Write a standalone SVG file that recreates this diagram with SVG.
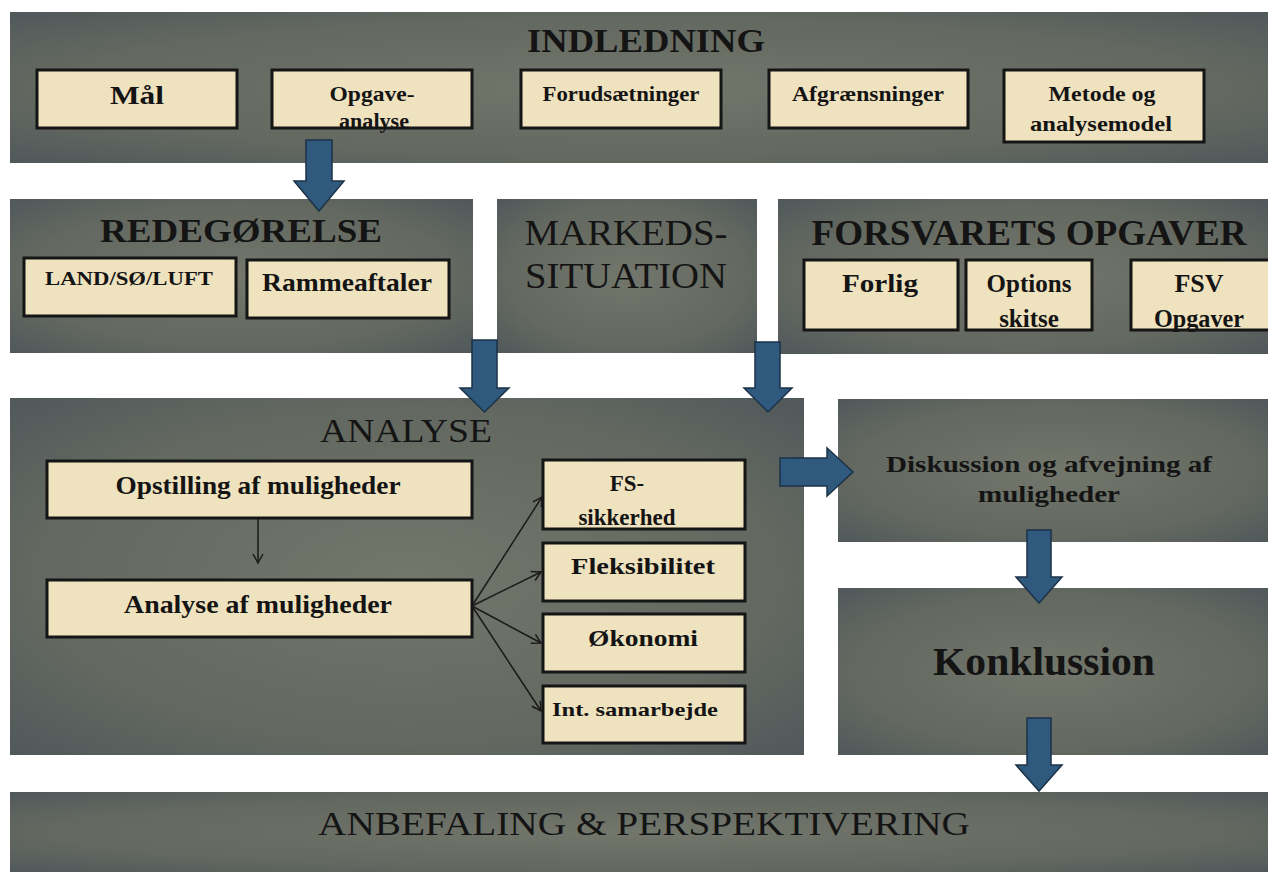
<svg xmlns="http://www.w3.org/2000/svg" width="1268" height="872" viewBox="0 0 1268 872">
<defs>
<radialGradient id="pg" cx="50%" cy="50%" r="72%">
<stop offset="0%" stop-color="#72766b"/>
<stop offset="65%" stop-color="#636860"/>
<stop offset="100%" stop-color="#4f575a"/>
</radialGradient>
<marker id="ah" markerWidth="12" markerHeight="12" refX="10" refY="6" orient="auto" markerUnits="userSpaceOnUse">
<path d="M1,1 L10,6 L1,11" fill="none" stroke="#1a1a1a" stroke-width="1.5"/>
</marker>
</defs>
<style>
.panel{fill:url(#pg)}
.box{fill:#efe2bf;stroke:#151515;stroke-width:3}
.arrow{fill:#2f5a7e;stroke:#1b3248;stroke-width:1.5}
.t{font-family:"Liberation Serif","Times New Roman",serif;fill:#141414;text-anchor:middle}
.b{font-weight:bold}
.thin{stroke:#1a1a1a;stroke-width:1.5;fill:none}
</style>
<rect width="1268" height="872" fill="#ffffff"/>

<g id="indledning">
<rect class="panel" x="10" y="12" width="1258" height="151"/>
<text class="t b" x="646" y="52" font-size="33" textLength="238" lengthAdjust="spacingAndGlyphs">INDLEDNING</text>
</g>
<g id="maal"><rect class="box" x="37" y="70" width="200" height="58"/><text class="t b" x="137" y="104" font-size="25" textLength="54" lengthAdjust="spacingAndGlyphs">Mål</text></g>
<g id="opgaveanalyse"><rect class="box" x="272" y="70" width="200" height="58"/><text class="t b" x="372" y="101" font-size="21" textLength="85" lengthAdjust="spacingAndGlyphs">Opgave-</text><text class="t b" x="374" y="128" font-size="21" textLength="70" lengthAdjust="spacingAndGlyphs">analyse</text></g>
<g id="forudsaetninger"><rect class="box" x="521" y="70" width="200" height="58"/><text class="t b" x="621" y="101" font-size="21" textLength="157" lengthAdjust="spacingAndGlyphs">Forudsætninger</text></g>
<g id="afgraensninger"><rect class="box" x="769" y="70" width="199" height="58"/><text class="t b" x="868" y="101" font-size="21" textLength="152" lengthAdjust="spacingAndGlyphs">Afgrænsninger</text></g>
<g id="metode"><rect class="box" x="1004" y="70" width="200" height="72"/><text class="t b" x="1102" y="101" font-size="21" textLength="107" lengthAdjust="spacingAndGlyphs">Metode og</text><text class="t b" x="1101" y="131" font-size="21" textLength="142" lengthAdjust="spacingAndGlyphs">analysemodel</text></g>

<g id="redegoerelse">
<rect class="panel" x="10" y="199" width="463" height="154"/>
<text class="t b" x="241" y="242" font-size="34" textLength="282" lengthAdjust="spacingAndGlyphs">REDEGØRELSE</text>
</g>
<g id="landsoeluft"><rect class="box" x="24" y="258" width="212" height="58"/><text class="t b" x="129" y="285" font-size="18" textLength="168" lengthAdjust="spacingAndGlyphs">LAND/SØ/LUFT</text></g>
<g id="rammeaftaler"><rect class="box" x="247" y="260" width="202" height="58"/><text class="t b" x="347" y="291" font-size="25" textLength="170" lengthAdjust="spacingAndGlyphs">Rammeaftaler</text></g>

<g id="markedssituation">
<rect class="panel" x="497" y="199" width="260" height="154"/>
<text class="t" x="626" y="245" font-size="35" textLength="203" lengthAdjust="spacingAndGlyphs">MARKEDS-</text>
<text class="t" x="626" y="288" font-size="35" textLength="202" lengthAdjust="spacingAndGlyphs">SITUATION</text>
</g>

<g id="forsvaretsopgaver">
<rect class="panel" x="778" y="199" width="490" height="155"/>
<text class="t b" x="1029" y="245" font-size="35" textLength="435" lengthAdjust="spacingAndGlyphs">FORSVARETS OPGAVER</text>
</g>
<g id="forlig"><rect class="box" x="804" y="260" width="154" height="70"/><text class="t b" x="880" y="292" font-size="26" textLength="76" lengthAdjust="spacingAndGlyphs">Forlig</text></g>
<g id="options"><rect class="box" x="966" y="260" width="126" height="70"/><text class="t b" x="1029" y="292" font-size="25">Options</text><text class="t b" x="1029" y="327" font-size="25">skitse</text></g>
<g id="fsv"><rect class="box" x="1131" y="260" width="140" height="70"/><text class="t b" x="1199" y="292" font-size="26">FSV</text><text class="t b" x="1199" y="327" font-size="26" textLength="90" lengthAdjust="spacingAndGlyphs">Opgaver</text></g>

<g id="analyse">
<rect class="panel" x="10" y="398" width="794" height="357"/>
<text class="t" x="406" y="442" font-size="34" textLength="172" lengthAdjust="spacingAndGlyphs">ANALYSE</text>
</g>
<g id="opstilling"><rect class="box" x="47" y="461" width="425" height="57"/><text class="t b" x="258" y="494" font-size="25" textLength="285" lengthAdjust="spacingAndGlyphs">Opstilling af muligheder</text></g>
<g id="analyseafmuligheder"><rect class="box" x="47" y="580" width="425" height="57"/><text class="t b" x="258" y="613" font-size="25" textLength="268" lengthAdjust="spacingAndGlyphs">Analyse af muligheder</text></g>
<g id="fssikkerhed"><rect class="box" x="543" y="460" width="202" height="69"/><text class="t b" x="627" y="491" font-size="23">FS-</text><text class="t b" x="627" y="525" font-size="23">sikkerhed</text></g>
<g id="fleksibilitet"><rect class="box" x="543" y="543" width="202" height="58"/><text class="t b" x="643" y="574" font-size="24" textLength="144" lengthAdjust="spacingAndGlyphs">Fleksibilitet</text></g>
<g id="oekonomi"><rect class="box" x="543" y="614" width="202" height="58"/><text class="t b" x="643" y="646" font-size="24" textLength="110" lengthAdjust="spacingAndGlyphs">Økonomi</text></g>
<g id="intsamarbejde"><rect class="box" x="543" y="686" width="202" height="57"/><text class="t b" x="635" y="716" font-size="19" textLength="166" lengthAdjust="spacingAndGlyphs">Int. samarbejde</text></g>

<g id="diskussion">
<rect class="panel" x="838" y="399" width="430" height="143"/>
<text class="t b" x="1049" y="472" font-size="23" textLength="326" lengthAdjust="spacingAndGlyphs">Diskussion og afvejning af</text>
<text class="t b" x="1049" y="502" font-size="23" textLength="142" lengthAdjust="spacingAndGlyphs">muligheder</text>
</g>

<g id="konklussion">
<rect class="panel" x="838" y="588" width="430" height="167"/>
<text class="t b" x="1044" y="675" font-size="40" textLength="222" lengthAdjust="spacingAndGlyphs">Konklussion</text>
</g>

<g id="anbefaling">
<rect class="panel" x="10" y="792" width="1258" height="80"/>
<text class="t" x="644" y="835" font-size="34" textLength="652" lengthAdjust="spacingAndGlyphs">ANBEFALING &amp; PERSPEKTIVERING</text>
</g>

<g id="connectors">
<path class="arrow" d="M306,140 H332 V181 H344 L319,211 L294,181 H306 Z"/>
<path class="arrow" d="M472,340 H497 V388 H509 L484.5,412 L460,388 H472 Z"/>
<path class="arrow" d="M755,342 H780 V388 H792 L768,412 L744,388 H755 Z"/>
<path class="arrow" d="M780,458 H827 V448 L853,472 L827,496 V486 H780 Z"/>
<path class="arrow" d="M1027,530 H1051 V577 H1062 L1039,603 L1016,577 H1027 Z"/>
<path class="arrow" d="M1027,718 H1051 V765 H1062 L1039,791 L1016,765 H1027 Z"/>
<line class="thin" x1="258" y1="519" x2="258" y2="563" marker-end="url(#ah)"/>
<line class="thin" x1="472" y1="606" x2="542" y2="497" marker-end="url(#ah)"/>
<line class="thin" x1="472" y1="606" x2="541" y2="572" marker-end="url(#ah)"/>
<line class="thin" x1="472" y1="606" x2="541" y2="643" marker-end="url(#ah)"/>
<line class="thin" x1="472" y1="606" x2="541" y2="711" marker-end="url(#ah)"/>
</g>
</svg>
